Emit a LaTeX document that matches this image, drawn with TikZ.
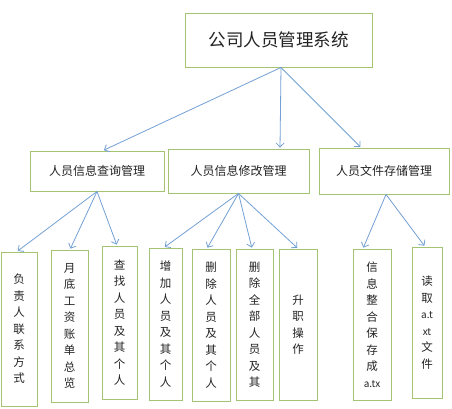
\documentclass[tikz,border=0pt]{standalone}
\usepackage{fontspec}
\setmainfont{Noto Sans CJK SC}
\usetikzlibrary{arrows.meta}
\definecolor{boxgreen}{RGB}{165,196,115}
\definecolor{arrowblue}{RGB}{115,160,212}
\definecolor{txt}{RGB}{35,35,35}
\tikzset{
  box/.style={draw=boxgreen, line width=0.9pt, fill=white, text=txt, inner sep=0pt, align=center},
  vbox/.style={box, font=\fontsize{11.5}{16.5}\selectfont},
  conn/.style={draw=arrowblue, line width=0.8pt, -{Straight Barb[length=4pt,width=8pt]}, shorten >=1pt}
}
\begin{document}
\begin{tikzpicture}[x=1pt,y=-1pt]
\useasboundingbox (0,0) rectangle (452,409);
\node[box, minimum width=187pt, minimum height=54pt, font=\fontsize{17.5}{20}\selectfont] (top) at (278.5,40) {公司人员管理系统};
\node[box, minimum width=134pt, minimum height=40pt, font=\fontsize{12}{14}\selectfont] (l1) at (97,171) {人员信息查询管理};
\node[box, minimum width=141pt, minimum height=44pt, font=\fontsize{12}{14}\selectfont] (l2) at (238.5,171) {人员信息修改管理};
\node[box, minimum width=130pt, minimum height=46pt, font=\fontsize{12}{14}\selectfont] (l3) at (384,171) {人员文件存储管理};

\node[vbox, minimum width=36pt, minimum height=154pt] (b1) at (19,329) {负\\责\\人\\联\\系\\方\\式};
\node[vbox, minimum width=37pt, minimum height=152pt] (b2) at (69.5,326) {月\\底\\工\\资\\账\\单\\总\\览};
\node[vbox, minimum width=35pt, minimum height=153pt] (b3) at (119.5,322.5) {查\\找\\人\\员\\及\\其\\个\\人};
\node[vbox, minimum width=33pt, minimum height=152pt] (b4) at (165.5,324) {增\\加\\人\\员\\及\\其\\个\\人};
\node[vbox, minimum width=38pt, minimum height=152pt] (b5) at (211,325) {删\\除\\人\\员\\及\\其\\个\\人};
\node[vbox, minimum width=37pt, minimum height=151pt] (b6) at (254.5,324.5) {删\\除\\全\\部\\人\\员\\及\\其};
\node[vbox, minimum width=38pt, minimum height=151pt] (b7) at (298,324.5) {升\\职\\操\\作};
\node[vbox, minimum width=38pt, minimum height=151pt] (b8) at (372,324.5) {信\\息\\整\\合\\保\\存\\成\\{\fontsize{10}{12}\selectfont a.tx}};
\node[vbox, minimum width=30pt, minimum height=151pt] (b9) at (427,322.5) {读\\取\\{\fontsize{10}{12}\selectfont a.t}\\{\fontsize{10}{12}\selectfont xt}\\文\\件};

\draw[conn] ([xshift=2.5pt]top.south) -- ([xshift=6pt]l1.north);
\draw[conn] ([xshift=2.5pt]top.south) -- ([xshift=41.5pt]l2.north);
\draw[conn] ([xshift=2.5pt]top.south) -- ([xshift=-23pt]l3.north);

\draw[conn] (l1.south) -- ([xshift=-2pt]b1.north);
\draw[conn] (l1.south) -- ([xshift=0.5pt]b2.north);
\draw[conn] (l1.south) -- ([xshift=-2.5pt]b3.north);
\draw[conn] (l2.south) -- ([xshift=-1.5pt]b4.north);
\draw[conn] (l2.south) -- ([xshift=-4pt]b5.north);
\draw[conn] (l2.south) -- ([xshift=-2.5pt]b6.north);
\draw[conn] (l2.south) -- (b7.north);
\draw[conn] ([xshift=2pt]l3.south) -- ([xshift=-9pt]b8.north);
\draw[conn] ([xshift=2pt]l3.south) -- ([xshift=-2pt]b9.north);
\end{tikzpicture}
\end{document}
